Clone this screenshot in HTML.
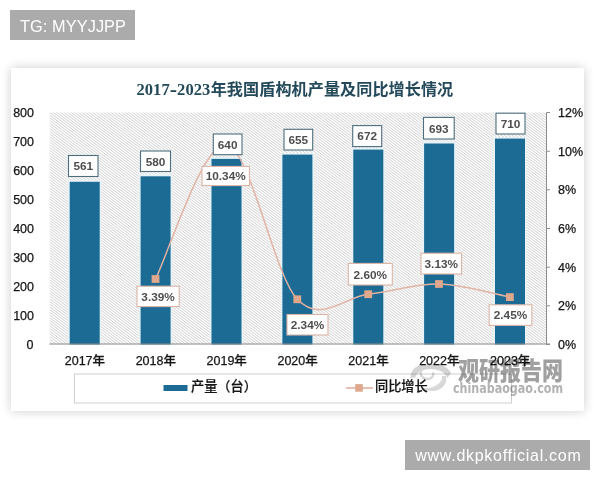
<!DOCTYPE html>
<html lang="zh"><head><meta charset="utf-8"><title>2017-2023年我国盾构机产量及同比增长情况</title>
<style>
html,body{margin:0;padding:0;background:#fff;}
body{width:600px;height:480px;position:relative;overflow:hidden;font-family:"Liberation Sans","Noto Sans CJK SC",sans-serif;}
.badge{position:absolute;overflow:hidden;background:#ababab;color:#fff;font-size:16px;line-height:30px;height:30px;white-space:nowrap;box-sizing:border-box;padding:0 10px;}
#b1{left:10px;top:10px;width:125px;height:29.5px;font-size:16.3px;line-height:32.6px;letter-spacing:0.1px;}
#b2{left:405px;top:440px;width:185px;height:29.5px;letter-spacing:0.72px;padding-left:10.3px;line-height:31.4px;}
#panel{position:absolute;left:10.5px;top:67.5px;width:573.5px;height:343.5px;background:#fff;box-shadow:0 0 10px rgba(0,0,0,0.2);}
svg{position:absolute;left:0;top:0;}
text{font-family:"Liberation Sans","Noto Sans CJK SC",sans-serif;}
.ax{font-size:12.5px;fill:#151515;font-weight:500;stroke:#151515;stroke-width:0.25px;}
.lg{font-size:13.2px;fill:#151515;font-weight:500;stroke:#151515;stroke-width:0.2px;}
.dl{font-size:11.8px;font-weight:bold;fill:#4e4e4e;text-anchor:middle;}
.wm2{font-family:"DejaVu Sans Condensed","DejaVu Sans",sans-serif;font-weight:bold;}
.ttl{font-family:"Liberation Serif","Noto Sans CJK SC",serif;font-weight:bold;fill:#23495a;}
</style></head><body>
<div class="badge" id="b1">TG: MYYJJPP</div>
<div id="panel"></div>
<svg width="600" height="480" viewBox="0 0 600 480">
<defs>
<clipPath id="pc"><rect x="49.5" y="112.5" width="497" height="232"/></clipPath>
</defs>
<path clip-path="url(#pc)" d="M49.5 -260.2L546.5 112.5M49.5 -257.6L546.5 115.2M49.5 -254.9L546.5 117.9M49.5 -252.2L546.5 120.6M49.5 -249.5L546.5 123.3M49.5 -246.8L546.5 126.0M49.5 -244.1L546.5 128.7M49.5 -241.4L546.5 131.4M49.5 -238.7L546.5 134.1M49.5 -236.0L546.5 136.8M49.5 -233.3L546.5 139.5M49.5 -230.6L546.5 142.2M49.5 -227.9L546.5 144.9M49.5 -225.2L546.5 147.6M49.5 -222.5L546.5 150.3M49.5 -219.8L546.5 153.0M49.5 -217.1L546.5 155.7M49.5 -214.4L546.5 158.4M49.5 -211.7L546.5 161.1M49.5 -209.0L546.5 163.8M49.5 -206.3L546.5 166.5M49.5 -203.6L546.5 169.2M49.5 -200.9L546.5 171.9M49.5 -198.2L546.5 174.6M49.5 -195.5L546.5 177.3M49.5 -192.8L546.5 180.0M49.5 -190.1L546.5 182.7M49.5 -187.4L546.5 185.4M49.5 -184.7L546.5 188.1M49.5 -182.0L546.5 190.8M49.5 -179.3L546.5 193.5M49.5 -176.6L546.5 196.2M49.5 -173.9L546.5 198.9M49.5 -171.2L546.5 201.6M49.5 -168.5L546.5 204.3M49.5 -165.8L546.5 207.0M49.5 -163.1L546.5 209.7M49.5 -160.4L546.5 212.4M49.5 -157.7L546.5 215.1M49.5 -155.0L546.5 217.8M49.5 -152.3L546.5 220.5M49.5 -149.6L546.5 223.2M49.5 -146.9L546.5 225.9M49.5 -144.2L546.5 228.6M49.5 -141.5L546.5 231.3M49.5 -138.8L546.5 234.0M49.5 -136.1L546.5 236.7M49.5 -133.4L546.5 239.4M49.5 -130.7L546.5 242.1M49.5 -128.0L546.5 244.8M49.5 -125.3L546.5 247.5M49.5 -122.6L546.5 250.2M49.5 -119.9L546.5 252.9M49.5 -117.2L546.5 255.6M49.5 -114.5L546.5 258.3M49.5 -111.8L546.5 261.0M49.5 -109.1L546.5 263.7M49.5 -106.4L546.5 266.4M49.5 -103.7L546.5 269.1M49.5 -101.0L546.5 271.8M49.5 -98.3L546.5 274.5M49.5 -95.6L546.5 277.2M49.5 -92.9L546.5 279.9M49.5 -90.2L546.5 282.6M49.5 -87.5L546.5 285.3M49.5 -84.8L546.5 288.0M49.5 -82.1L546.5 290.7M49.5 -79.4L546.5 293.4M49.5 -76.7L546.5 296.1M49.5 -74.0L546.5 298.8M49.5 -71.3L546.5 301.5M49.5 -68.6L546.5 304.2M49.5 -65.9L546.5 306.9M49.5 -63.2L546.5 309.6M49.5 -60.5L546.5 312.3M49.5 -57.8L546.5 315.0M49.5 -55.1L546.5 317.7M49.5 -52.4L546.5 320.4M49.5 -49.7L546.5 323.1M49.5 -47.0L546.5 325.8M49.5 -44.3L546.5 328.5M49.5 -41.6L546.5 331.2M49.5 -38.9L546.5 333.9M49.5 -36.2L546.5 336.6M49.5 -33.5L546.5 339.3M49.5 -30.8L546.5 342.0M49.5 -28.1L546.5 344.7M49.5 -25.4L546.5 347.4M49.5 -22.7L546.5 350.1M49.5 -20.0L546.5 352.8M49.5 -17.3L546.5 355.5M49.5 -14.6L546.5 358.2M49.5 -11.9L546.5 360.9M49.5 -9.2L546.5 363.6M49.5 -6.5L546.5 366.3M49.5 -3.8L546.5 369.0M49.5 -1.1L546.5 371.7M49.5 1.6L546.5 374.4M49.5 4.3L546.5 377.1M49.5 7.0L546.5 379.8M49.5 9.7L546.5 382.5M49.5 12.4L546.5 385.2M49.5 15.1L546.5 387.9M49.5 17.8L546.5 390.6M49.5 20.5L546.5 393.3M49.5 23.2L546.5 396.0M49.5 25.9L546.5 398.7M49.5 28.6L546.5 401.4M49.5 31.3L546.5 404.1M49.5 34.0L546.5 406.8M49.5 36.7L546.5 409.5M49.5 39.4L546.5 412.2M49.5 42.1L546.5 414.9M49.5 44.8L546.5 417.6M49.5 47.5L546.5 420.3M49.5 50.2L546.5 423.0M49.5 52.9L546.5 425.7M49.5 55.6L546.5 428.4M49.5 58.3L546.5 431.1M49.5 61.0L546.5 433.8M49.5 63.7L546.5 436.5M49.5 66.4L546.5 439.2M49.5 69.1L546.5 441.9M49.5 71.8L546.5 444.6M49.5 74.5L546.5 447.3M49.5 77.2L546.5 450.0M49.5 79.9L546.5 452.7M49.5 82.6L546.5 455.4M49.5 85.3L546.5 458.1M49.5 88.0L546.5 460.8M49.5 90.7L546.5 463.5M49.5 93.4L546.5 466.2M49.5 96.1L546.5 468.9M49.5 98.8L546.5 471.6M49.5 101.5L546.5 474.3M49.5 104.2L546.5 477.0M49.5 106.9L546.5 479.7M49.5 109.6L546.5 482.4M49.5 112.3L546.5 485.1M49.5 115.0L546.5 487.8M49.5 117.7L546.5 490.5M49.5 120.4L546.5 493.2M49.5 123.1L546.5 495.9M49.5 125.8L546.5 498.6M49.5 128.5L546.5 501.3M49.5 131.2L546.5 504.0M49.5 133.9L546.5 506.7M49.5 136.6L546.5 509.4M49.5 139.3L546.5 512.1M49.5 142.0L546.5 514.8M49.5 144.7L546.5 517.5M49.5 147.4L546.5 520.2M49.5 150.1L546.5 522.9M49.5 152.8L546.5 525.6M49.5 155.5L546.5 528.3M49.5 158.2L546.5 531.0M49.5 160.9L546.5 533.7M49.5 163.6L546.5 536.4M49.5 166.3L546.5 539.1M49.5 169.0L546.5 541.8M49.5 171.7L546.5 544.5M49.5 174.4L546.5 547.2M49.5 177.1L546.5 549.9M49.5 179.8L546.5 552.6M49.5 182.5L546.5 555.3M49.5 185.2L546.5 558.0M49.5 187.9L546.5 560.7M49.5 190.6L546.5 563.4M49.5 193.3L546.5 566.1M49.5 196.0L546.5 568.8M49.5 198.7L546.5 571.5M49.5 201.4L546.5 574.2M49.5 204.1L546.5 576.9M49.5 206.8L546.5 579.6M49.5 209.5L546.5 582.3M49.5 212.2L546.5 585.0M49.5 214.9L546.5 587.7M49.5 217.6L546.5 590.4M49.5 220.3L546.5 593.1M49.5 223.0L546.5 595.8M49.5 225.7L546.5 598.5M49.5 228.4L546.5 601.2M49.5 231.1L546.5 603.9M49.5 233.8L546.5 606.6M49.5 236.5L546.5 609.3M49.5 239.2L546.5 612.0M49.5 241.9L546.5 614.7M49.5 244.6L546.5 617.4M49.5 247.3L546.5 620.1M49.5 250.0L546.5 622.8M49.5 252.7L546.5 625.5M49.5 255.4L546.5 628.2M49.5 258.1L546.5 630.9M49.5 260.8L546.5 633.6M49.5 263.5L546.5 636.3M49.5 266.2L546.5 639.0M49.5 268.9L546.5 641.7M49.5 271.6L546.5 644.4M49.5 274.3L546.5 647.1M49.5 277.0L546.5 649.8M49.5 279.7L546.5 652.5M49.5 282.4L546.5 655.2M49.5 285.1L546.5 657.9M49.5 287.8L546.5 660.6M49.5 290.5L546.5 663.3M49.5 293.2L546.5 666.0M49.5 295.9L546.5 668.7M49.5 298.6L546.5 671.4M49.5 301.3L546.5 674.1M49.5 304.0L546.5 676.8M49.5 306.7L546.5 679.5M49.5 309.4L546.5 682.2M49.5 312.1L546.5 684.9M49.5 314.8L546.5 687.6M49.5 317.5L546.5 690.3M49.5 320.2L546.5 693.0M49.5 322.9L546.5 695.7M49.5 325.6L546.5 698.4M49.5 328.3L546.5 701.1M49.5 331.0L546.5 703.8M49.5 333.7L546.5 706.5M49.5 336.4L546.5 709.2M49.5 339.1L546.5 711.9M49.5 341.8L546.5 714.6M49.5 344.5L546.5 717.3M49.5 347.2L546.5 720.0M49.5 349.9L546.5 722.7M49.5 352.6L546.5 725.4M49.5 355.3L546.5 728.1M49.5 358.0L546.5 730.8M49.5 360.7L546.5 733.5M49.5 363.4L546.5 736.2M49.5 366.1L546.5 738.9M49.5 368.8L546.5 741.6M49.5 371.5L546.5 744.3M49.5 374.2L546.5 747.0M49.5 376.9L546.5 749.7M49.5 379.6L546.5 752.4" stroke="#d0d0d0" stroke-width="1.0" fill="none"/>
<text class="ttl" x="136.5" y="94.6"><tspan font-size="16.5px" letter-spacing="0.05">2017<tspan font-size="22px" dy="1">-</tspan><tspan dy="-1">2023</tspan></tspan><tspan font-size="16.1px" dx="0.4" letter-spacing="0.08">年我国盾构机产量及同比增长情况</tspan></text>
<text class="ax" x="33.5" y="349.0" text-anchor="end">0</text>
<text class="ax" x="34" y="320.0" text-anchor="end">100</text>
<text class="ax" x="34" y="291.0" text-anchor="end">200</text>
<text class="ax" x="34" y="262.0" text-anchor="end">300</text>
<text class="ax" x="34" y="233.0" text-anchor="end">400</text>
<text class="ax" x="34" y="204.0" text-anchor="end">500</text>
<text class="ax" x="34" y="175.0" text-anchor="end">600</text>
<text class="ax" x="34" y="146.0" text-anchor="end">700</text>
<text class="ax" x="34" y="117.0" text-anchor="end">800</text>
<path d="M546.5 112.5V344.5" stroke="#8c8c8c" stroke-width="1" fill="none"/>
<path d="M546.5 344.5h3.5" stroke="#8c8c8c" stroke-width="1" fill="none"/><text class="ax" x="558" y="349.0">0%</text>
<path d="M546.5 305.8h3.5" stroke="#8c8c8c" stroke-width="1" fill="none"/><text class="ax" x="558" y="310.3">2%</text>
<path d="M546.5 267.2h3.5" stroke="#8c8c8c" stroke-width="1" fill="none"/><text class="ax" x="558" y="271.7">4%</text>
<path d="M546.5 228.5h3.5" stroke="#8c8c8c" stroke-width="1" fill="none"/><text class="ax" x="558" y="233.0">6%</text>
<path d="M546.5 189.8h3.5" stroke="#8c8c8c" stroke-width="1" fill="none"/><text class="ax" x="558" y="194.3">8%</text>
<path d="M546.5 151.2h3.5" stroke="#8c8c8c" stroke-width="1" fill="none"/><text class="ax" x="558" y="155.7">10%</text>
<path d="M546.5 112.5h3.5" stroke="#8c8c8c" stroke-width="1" fill="none"/><text class="ax" x="558" y="117.0">12%</text>
<rect x="68.0" y="180.1" width="33.4" height="164.4" fill="#e7f2f6"/><rect x="69.7" y="181.8" width="30" height="162.7" fill="#1c6b94"/>
<rect x="138.9" y="174.6" width="33.4" height="169.9" fill="#e7f2f6"/><rect x="140.6" y="176.3" width="30" height="168.2" fill="#1c6b94"/>
<rect x="209.8" y="157.2" width="33.4" height="187.3" fill="#e7f2f6"/><rect x="211.5" y="158.9" width="30" height="185.6" fill="#1c6b94"/>
<rect x="280.7" y="152.9" width="33.4" height="191.6" fill="#e7f2f6"/><rect x="282.4" y="154.6" width="30" height="189.9" fill="#1c6b94"/>
<rect x="351.6" y="147.9" width="33.4" height="196.6" fill="#e7f2f6"/><rect x="353.3" y="149.6" width="30" height="194.9" fill="#1c6b94"/>
<rect x="422.4" y="141.8" width="33.4" height="202.7" fill="#e7f2f6"/><rect x="424.1" y="143.5" width="30" height="201.0" fill="#1c6b94"/>
<rect x="493.3" y="136.9" width="33.4" height="207.6" fill="#e7f2f6"/><rect x="495.0" y="138.6" width="30" height="205.9" fill="#1c6b94"/>
<path d="M49.5 344H550" stroke="#8c8c8c" stroke-width="1" fill="none"/>
<text class="ax" x="84.9" y="365.2" text-anchor="middle">2017年</text>
<text class="ax" x="155.8" y="365.2" text-anchor="middle">2018年</text>
<text class="ax" x="226.7" y="365.2" text-anchor="middle">2019年</text>
<text class="ax" x="297.6" y="365.2" text-anchor="middle">2020年</text>
<text class="ax" x="368.5" y="365.2" text-anchor="middle">2021年</text>
<text class="ax" x="439.3" y="365.2" text-anchor="middle">2022年</text>
<text class="ax" x="510.2" y="365.2" text-anchor="middle">2023年</text>
<path d="M155.5 279.0C167.3 256.6 202.8 141.2 226.4 144.6C250.0 148.0 273.7 274.3 297.3 299.3C320.9 324.2 344.5 296.8 368.2 294.2C391.8 291.7 415.4 283.5 439.0 284.0C462.7 284.5 498.1 294.9 509.9 297.1" stroke="#e2b2a2" stroke-width="1.45" fill="none"/>
<rect x="151.6" y="275.1" width="7.8" height="7.8" fill="#dfa78c"/>
<rect x="222.5" y="140.7" width="7.8" height="7.8" fill="#dfa78c"/>
<rect x="293.4" y="295.4" width="7.8" height="7.8" fill="#dfa78c"/>
<rect x="364.3" y="290.3" width="7.8" height="7.8" fill="#dfa78c"/>
<rect x="435.1" y="280.1" width="7.8" height="7.8" fill="#dfa78c"/>
<rect x="506.0" y="293.2" width="7.8" height="7.8" fill="#dfa78c"/>
<rect x="68.5" y="155.5" width="29.5" height="21.0" fill="#fff" stroke="#4d6e7c" stroke-width="1.1"/><text class="dl" x="83.25" y="170.3">561</text>
<rect x="140.5" y="151" width="30.0" height="20.5" fill="#fff" stroke="#4d6e7c" stroke-width="1.1"/><text class="dl" x="155.5" y="165.55">580</text>
<rect x="213.3" y="134" width="28.69999999999999" height="20.69999999999999" fill="#fff" stroke="#4d6e7c" stroke-width="1.1"/><text class="dl" x="227.65" y="148.65">640</text>
<rect x="284" y="129.3" width="28.69999999999999" height="20.69999999999999" fill="#fff" stroke="#4d6e7c" stroke-width="1.1"/><text class="dl" x="298.35" y="143.95000000000002">655</text>
<rect x="352.7" y="125.6" width="29.0" height="21.0" fill="#fff" stroke="#4d6e7c" stroke-width="1.1"/><text class="dl" x="367.2" y="140.4">672</text>
<rect x="423.5" y="117.4" width="30.69999999999999" height="21.599999999999994" fill="#fff" stroke="#4d6e7c" stroke-width="1.1"/><text class="dl" x="438.85" y="132.5">693</text>
<rect x="496" y="113.2" width="29" height="20.799999999999997" fill="#fff" stroke="#4d6e7c" stroke-width="1.1"/><text class="dl" x="510.5" y="127.89999999999999">710</text>
<rect x="137" y="286.2" width="42.19999999999999" height="20.400000000000034" fill="#fff" stroke="#dbb5a6" stroke-width="1.1"/><text class="dl" x="158.1" y="300.7">3.39%</text>
<rect x="202" y="166.4" width="47.400000000000006" height="19.19999999999999" fill="#fff" stroke="#dbb5a6" stroke-width="1.1"/><text class="dl" x="225.7" y="180.3">10.34%</text>
<rect x="287" y="314.5" width="41" height="20.5" fill="#fff" stroke="#dbb5a6" stroke-width="1.1"/><text class="dl" x="307.5" y="329.05">2.34%</text>
<rect x="348.3" y="263.4" width="44.0" height="21.600000000000023" fill="#fff" stroke="#dbb5a6" stroke-width="1.1"/><text class="dl" x="370.3" y="278.5">2.60%</text>
<rect x="421" y="253.2" width="40.60000000000002" height="20.80000000000001" fill="#fff" stroke="#dbb5a6" stroke-width="1.1"/><text class="dl" x="441.3" y="267.90000000000003">3.13%</text>
<rect x="489.2" y="304.8" width="42.599999999999966" height="20.599999999999966" fill="#fff" stroke="#dbb5a6" stroke-width="1.1"/><text class="dl" x="510.5" y="319.40000000000003">2.45%</text>
<rect x="74.5" y="374" width="437" height="29" fill="#fff" stroke="#d0d0d0" stroke-width="1"/>
<rect x="163.5" y="385" width="24" height="6" fill="#1c6b94"/>
<text class="lg" x="191" y="391.2">产量（台）</text>
<path d="M346 388H373" stroke="#deab99" stroke-width="1.5"/><rect x="355.2" y="384.1" width="7.6" height="7.6" fill="#dfa78c"/>
<text class="lg" x="375" y="391.2">同比增长</text>
<g style="mix-blend-mode:multiply"><text x="458" y="380.3" font-size="25px" font-weight="900" fill="#a0a0a0" textLength="105" lengthAdjust="spacingAndGlyphs">观研报告网</text>
<text x="453" y="393.3" class="wm2" font-size="14px" fill="#b2b2b2" textLength="110" lengthAdjust="spacingAndGlyphs">chinabaogao.com</text>
<path d="M410.3 378C410.5 368.5 419 363.2 430 363.6C441 364 448.5 367.5 451 373L447.3 378C445 372.5 439 369.3 431 369C424 368.8 417.5 371.5 415.2 377.5Z" fill="#d4d4d4"/><path d="M446 376C448 383.5 442 391 432 391C428 391 425 390 422.5 387.5C427 388.7 431 388 435 386C440 383.5 442.6 380 442 376Z" fill="#d8d8d8"/><path d="M421 369.5C419.5 375 422.5 379.5 428 379C432 378.5 434 375.5 433 372.5" fill="none" stroke="#d8d8d8" stroke-width="2.4"/></g>
</svg>
<div class="badge" id="b2">www.dkpkofficial.com</div>
</body></html>
